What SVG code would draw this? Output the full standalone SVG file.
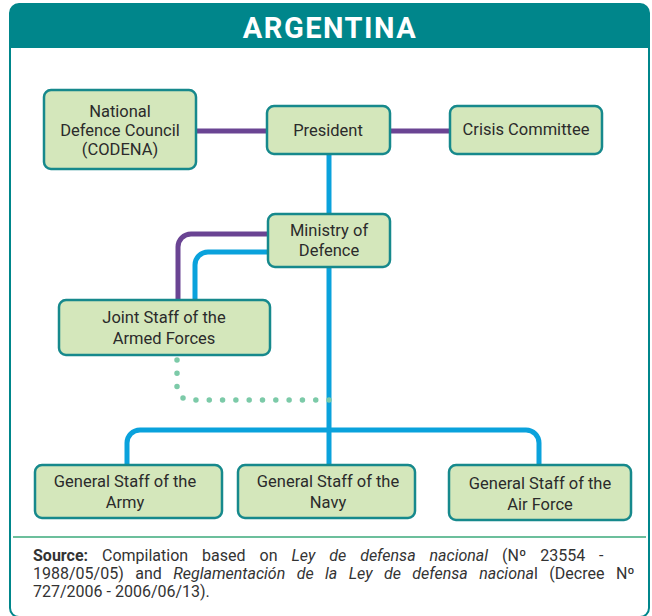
<svg xmlns="http://www.w3.org/2000/svg" width="652" height="616" viewBox="0 0 652 616">
  <style>
    .node rect { fill: #d4e7bb; stroke: #16898c; stroke-width: 2.5; }
    .node text { font-family: Roboto, "Noto Sans", "Liberation Sans", sans-serif; font-size: 16.5px; fill: #2b2b2b; text-anchor: middle; }
    .purple { fill: none; stroke: #6a4493; stroke-width: 5; }
    .blue { fill: none; stroke: #0aa2dc; stroke-width: 5; }
    .dots { fill: none; stroke: #7ccaa8; stroke-width: 5.5; stroke-linecap: round; stroke-dasharray: 0 13.31; }
    .src { font-family: Roboto, "Noto Sans", "Liberation Sans", sans-serif; font-size: 16px; fill: #333333; }
  </style>

  <!-- frame and header band -->
  <rect x="10" y="4" width="639" height="613" rx="9" fill="#ffffff" stroke="#00868b" stroke-width="2"/>
  <path d="M10,48 V13 a9,9 0 0 1 9,-9 H640 a9,9 0 0 1 9,9 V48 Z" fill="#00868b"/>
  <text x="330" y="38" font-family="Roboto, 'Noto Sans', 'Liberation Sans', sans-serif" font-size="29" font-weight="bold" fill="#ffffff" text-anchor="middle" letter-spacing="1.5">ARGENTINA</text>

  <!-- connectors -->
  <g id="connectors">
    <line class="purple" x1="196" y1="131" x2="267" y2="131"/>
    <line class="purple" x1="390" y1="131" x2="450" y2="131"/>
    <line class="blue" x1="329" y1="154" x2="329" y2="214"/>
    <line class="blue" x1="329" y1="267" x2="329" y2="465"/>
    <path class="purple" d="M268,234 H191 a13,13 0 0 0 -13,13 V300"/>
    <path class="blue" d="M268,252 H208 a13,13 0 0 0 -13,13 V300"/>
    <path class="dots" d="M177,360 V387 a13,13 0 0 0 13,13 H329"/>
    <circle cx="329" cy="400" r="2.75" fill="#7ccaa8"/>
    <path class="blue" d="M127,465 V443 a13,13 0 0 1 13,-13 H526 a13,13 0 0 1 13,13 V465"/>
  </g>

  <!-- nodes -->
  <g id="codena" class="node">
    <rect x="44" y="90" width="152" height="79" rx="7"/>
    <text x="120" y="117">National</text>
    <text x="120" y="136">Defence Council</text>
    <text x="120" y="155">(CODENA)</text>
  </g>
  <g id="president" class="node">
    <rect x="267" y="106" width="123" height="48" rx="7"/>
    <text x="328" y="136">President</text>
  </g>
  <g id="crisis" class="node">
    <rect x="450" y="106" width="152" height="48" rx="7"/>
    <text x="526" y="135">Crisis Committee</text>
  </g>
  <g id="ministry" class="node">
    <rect x="268" y="214" width="122" height="53" rx="7"/>
    <text x="329" y="236">Ministry of</text>
    <text x="329" y="256">Defence</text>
  </g>
  <g id="joint" class="node">
    <rect x="59" y="300" width="211" height="55" rx="7"/>
    <text x="164" y="323">Joint Staff of the</text>
    <text x="164" y="344">Armed Forces</text>
  </g>
  <g id="army" class="node">
    <rect x="35" y="465" width="187" height="53" rx="7"/>
    <text x="125" y="487">General Staff of the</text>
    <text x="125" y="508">Army</text>
  </g>
  <g id="navy" class="node">
    <rect x="238" y="465" width="177" height="53" rx="7"/>
    <text x="328" y="487">General Staff of the</text>
    <text x="328" y="508">Navy</text>
  </g>
  <g id="airforce" class="node">
    <rect x="449" y="465" width="182" height="55" rx="7"/>
    <text x="540" y="489">General Staff of the</text>
    <text x="540" y="510">Air Force</text>
  </g>

  <!-- source note (justified by word spacing) -->
  <line x1="13" y1="537" x2="646" y2="537" stroke="#6cbf9c" stroke-width="2"/>
  <text class="src" x="33" y="561" word-spacing="10"><tspan font-weight="bold">Source:</tspan> Compilation based on <tspan font-style="italic">Ley de defensa nacional</tspan> (Nº 23554 -</text>
  <text class="src" x="33" y="579" word-spacing="7.5"><tspan>1988/05/05) and </tspan><tspan font-style="italic">Reglamentación de la Ley de defensa naciona</tspan><tspan>l (Decree Nº</tspan></text>
  <text class="src" x="33" y="597">727/2006 - 2006/06/13).</text>
</svg>
